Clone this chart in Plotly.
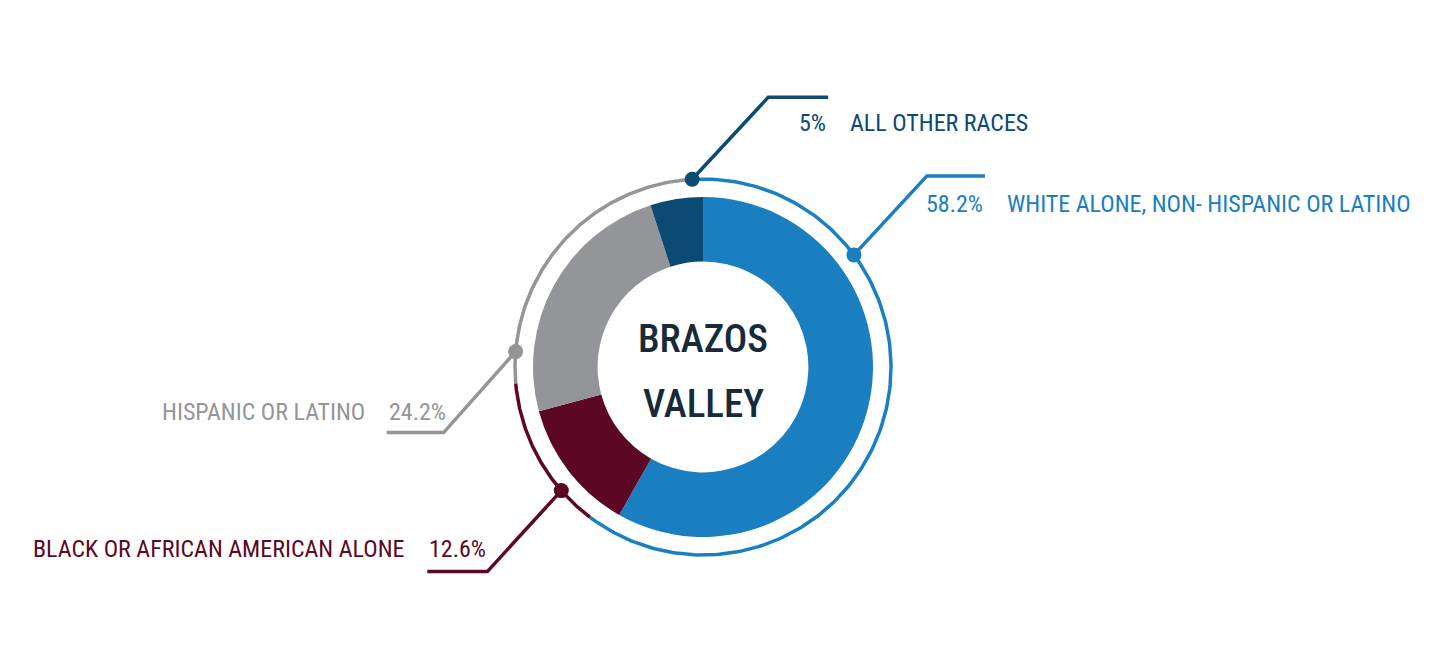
import numpy as np
import plotly.graph_objects as go

# ---- data ----
categories = ["WHITE ALONE, NON- HISPANIC OR LATINO", "BLACK OR AFRICAN AMERICAN ALONE",
              "HISPANIC OR LATINO", "ALL OTHER RACES"]
values = [58.2, 12.6, 24.2, 5]
pct_labels = ["58.2%", "12.6%", "24.2%", "5%"]
center_title = ["BRAZOS", "VALLEY"]

# ---- style ----
colors = ["#1a7fc1", "#5c0824", "#939598", "#0a4a73"]
W, H = 1429, 663
OFF = 8                    # page body margin: figure origin sits at (8, 8) on screen
CX, CY = 703, 367          # donut centre (screen pixels)
R_PIE = 170
HOLE = 0.62
R_RING = 188
FONT = "Roboto Condensed, DejaVu Sans Condensed, sans-serif"
LABEL_SIZE = 24

# outer ring arcs: (start_deg, end_deg, colour index) clockwise from 12 o'clock
ring_arcs = [(357, 577, 0), (217, 265, 1), (265, 357, 2)]
# callouts: dot angle, diagonal offset, horizontal length, side
callouts = [
    dict(angle=53.4, d=(73, -79), h=58, side="right", dy_text=28),
    dict(angle=228.9, d=(-74, 81), h=-60, side="left", dy_text=-23),
    dict(angle=274.7, d=(-72, 81), h=-57, side="left", dy_text=-21),
    dict(angle=356.7, d=(76, -82), h=60, side="right", dy_text=26),
]

fig = go.Figure()

# donut
fig.add_trace(go.Pie(
    values=values, labels=categories, sort=False, direction="clockwise", rotation=0,
    hole=HOLE, marker=dict(colors=colors, line=dict(width=0)),
    textinfo="none", hoverinfo="label+percent", showlegend=False,
    domain=dict(x=[(CX - OFF - R_PIE) / W, (CX - OFF + R_PIE) / W],
                y=[1 - (CY - OFF + R_PIE) / H, 1 - (CY - OFF - R_PIE) / H]),
))

# outer ring arcs
for a0, a1, ci in ring_arcs:
    t = np.radians(np.linspace(a0, a1, 200))
    fig.add_trace(go.Scatter(x=CX + R_RING * np.sin(t), y=CY - R_RING * np.cos(t),
                             mode="lines", line=dict(color=colors[ci], width=3.5),
                             hoverinfo="skip", showlegend=False))

annotations = []
for i, c in enumerate(callouts):
    a = np.radians(c["angle"])
    dx0, dy0 = CX + R_RING * np.sin(a), CY - R_RING * np.cos(a)
    ex, ey = dx0 + c["d"][0], dy0 + c["d"][1]
    hx = ex + c["h"]
    fig.add_trace(go.Scatter(x=[dx0, ex, hx], y=[dy0, ey, ey], mode="lines",
                             line=dict(color=colors[i], width=3.5),
                             hoverinfo="skip", showlegend=False))
    fig.add_trace(go.Scatter(x=[dx0], y=[dy0], mode="markers",
                             marker=dict(color=colors[i], size=15),
                             hoverinfo="skip", showlegend=False))
    ty = ey + c["dy_text"]
    f = dict(family=FONT, size=LABEL_SIZE, color=colors[i])
    if c["side"] == "right":
        annotations.append(dict(x=hx, y=ty, text=pct_labels[i], xanchor="right",
                                yanchor="middle", showarrow=False, font=f))
        annotations.append(dict(x=hx + 20, y=ty, text=categories[i], xanchor="left",
                                yanchor="middle", showarrow=False, font=f))
    else:
        annotations.append(dict(x=hx, y=ty, text=pct_labels[i], xanchor="left",
                                yanchor="middle", showarrow=False, font=f))
        annotations.append(dict(x=hx - 20, y=ty, text=categories[i], xanchor="right",
                                yanchor="middle", showarrow=False, font=f))

for j, line in enumerate(center_title):
    annotations.append(dict(x=CX, y=CY - 28 + 65 * j, text=line, showarrow=False,
                            xanchor="center", yanchor="middle",
                            font=dict(family=FONT, size=39, color="#172a3a", weight=500)))

for ann in annotations:
    ann.update(xref="x", yref="y")

fig.update_layout(
    width=W, height=H, margin=dict(l=0, r=0, t=0, b=0),
    paper_bgcolor="white", plot_bgcolor="white",
    xaxis=dict(range=[OFF, W + OFF], visible=False, fixedrange=True),
    yaxis=dict(range=[H + OFF, OFF], visible=False, fixedrange=True),
    annotations=annotations,
)

fig.write_html("out.html")
